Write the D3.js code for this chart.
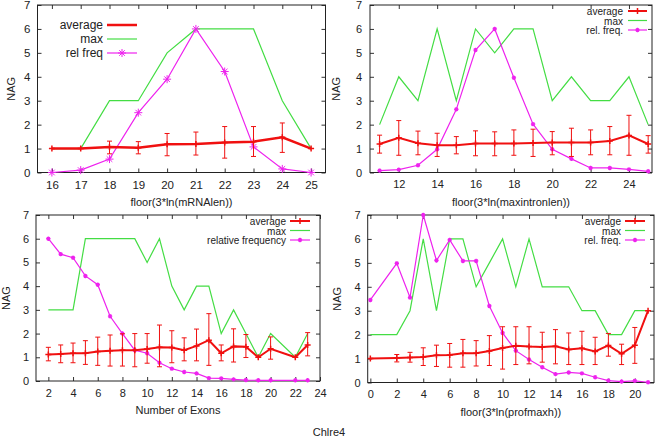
<!DOCTYPE html>
<html>
<head>
<meta charset="utf-8">
<script src="https://cdn.jsdelivr.net/npm/d3@7"></script>
<style>
  body { margin: 0; background: #fff; }
  text { font-family: "Liberation Sans", Arial, sans-serif; fill: #222; }
</style>
</head>
<body>
<svg id="chart" width="658" height="442"></svg>
<script>
// NAG vs gene features, Chlre4

// panel 1: mRNA length
const p1X    = [16, 17, 18, 19, 20, 21, 22, 23, 24, 25];
const p1Avg  = [1, 1, 1.07, 1.03, 1.18, 1.19, 1.25, 1.29, 1.47, 1];
const p1Lo   = [1, 1, 0.78, 0.78, 0.7, 0.73, 0.6, 0.67, 0.84, 1];
const p1Hi   = [1, 1, 1.31, 1.29, 1.63, 1.69, 1.92, 1.92, 2.07, 1];
const p1Max  = [1, 1, 3, 3, 5, 6, 6, 6, 3, 1];
const p1Freq = [0, 0.1, 0.56, 2.5, 3.9, 6, 4.22, 1.07, 0.15, 0];

// panel 2: max intron length
const p2X    = [11, 12, 13, 14, 15, 16, 17, 18, 19, 20, 21, 22, 23, 24, 25];
const p2Avg  = [1.19, 1.45, 1.22, 1.14, 1.14, 1.21, 1.21, 1.21, 1.23, 1.25, 1.25, 1.25, 1.32, 1.55, 1.19];
const p2Lo   = [0.81, 0.72, 0.74, 0.67, 0.78, 0.7, 0.7, 0.72, 0.67, 0.74, 0.67, 0.74, 0.74, 0.72, 0.81];
const p2Hi   = [1.56, 2.17, 1.73, 1.64, 1.5, 1.74, 1.7, 1.78, 1.81, 1.71, 1.85, 1.78, 1.92, 2.39, 1.54];
const p2Max  = [2, 4, 3, 6, 3, 6, 5, 6, 6, 3, 4, 3, 3, 4, 2];
const p2Freq = [0.08, 0.12, 0.3, 0.97, 2.64, 5.12, 6, 3.96, 2.02, 0.97, 0.57, 0.19, 0.19, 0.13, 0.05];

// panel 3: number of exons (no 21)
const p3X    = [2, 3, 4, 5, 6, 7, 8, 9, 10, 11, 12, 13, 14, 15, 16, 17, 18, 19, 20, 22, 23];
const p3Avg  = [1.12, 1.14, 1.17, 1.17, 1.24, 1.28, 1.3, 1.3, 1.35, 1.42, 1.41, 1.3, 1.48, 1.72, 1.17, 1.46, 1.44, 1, 1.36, 1, 1.52];
const p3Lo   = [0.85, 0.77, 0.77, 0.7, 0.66, 0.63, 0.63, 0.6, 0.75, 0.6, 0.77, 0.85, 0.85, 0.66, 0.85, 0.8, 0.99, 1, 0.92, 1, 1.06];
const p3Hi   = [1.42, 1.52, 1.6, 1.7, 1.85, 1.94, 1.99, 2.0, 2.0, 2.36, 2.12, 1.82, 2.19, 2.84, 1.52, 2.2, 1.96, 1, 1.86, 1, 2.04];
const p3Max  = [3, 3, 3, 6, 6, 6, 6, 6, 5, 6, 4, 3, 4, 4, 2, 3, 2, 1, 2, 1, 2];
const p3Freq = [6, 5.35, 5.2, 4.43, 4.06, 2.73, 2.0, 1.3, 1.17, 0.77, 0.52, 0.38, 0.32, 0.12, 0.11, 0.07, 0.04, 0.03, 0.03, 0.03, 0.03];

// panel 4: profile max height (no 1)
const p4X    = [0, 2, 3, 4, 5, 6, 7, 8, 9, 10, 11, 12, 13, 14, 15, 16, 17, 18, 19, 20, 21];
const p4Avg  = [1, 1.02, 1.04, 1.07, 1.14, 1.15, 1.22, 1.22, 1.32, 1.44, 1.54, 1.5, 1.48, 1.51, 1.38, 1.43, 1.3, 1.55, 1.2, 1.56, 3];
const p4Lo   = [1, 0.86, 0.85, 0.71, 0.67, 0.64, 0.64, 0.69, 0.71, 0.56, 0.75, 0.78, 0.85, 0.78, 0.75, 0.75, 0.75, 1.1, 0.75, 0.8, 3];
const p4Hi   = [1, 1.17, 1.26, 1.45, 1.56, 1.63, 1.8, 1.75, 1.96, 2.33, 2.33, 2.33, 2.1, 2.21, 2.07, 2.14, 1.89, 2.05, 1.6, 2.3, 3];
const p4Max  = [2, 2, 3, 6, 3, 6, 6, 4, 5, 6, 4, 6, 4, 4, 4, 3, 3, 2, 2, 3, 3];
const p4Freq = [3.45, 4.98, 3.55, 7, 5.1, 5.96, 5.08, 5.08, 3.2, 2.07, 1.33, 0.96, 0.64, 0.35, 0.42, 0.38, 0.22, 0.08, 0.04, 0.07, 0.01];

const yTicks = [0, 1, 2, 3, 4, 5, 6, 7];

const RED = '#f01010', GREEN = '#44dd44', MAG = '#ee22ee';

const svg = d3.select('#chart');

// gnuplot-ish asterisk / plus glyphs
const star = r => `M${-r},0H${r}M0,${-r}V${r}M${-r*0.7},${-r*0.7}L${r*0.7},${r*0.7}M${-r*0.7},${r*0.7}L${r*0.7},${-r*0.7}`;
const plus = r => `M${-r},0H${r}M0,${-r}V${r}`;

const drawPanel = p => {
  const x = d3.scaleLinear().domain(p.xDomain).range([p.left, p.right]);
  const y = d3.scaleLinear().domain([0, 7]).range([p.bottom, p.top]);
  const g = svg.append('g');

  // clip only left/right, markers may sit on top/bottom frame
  const clip = 'clip' + p.id;
  g.append('clipPath').attr('id', clip)
    .append('rect')
      .attr('x', p.left).attr('y', p.top - 6)
      .attr('width', p.right - p.left).attr('height', p.bottom - p.top + 12);

  // axes: ticks inside, mirrored
  const tl = 4;
  g.append('g').attr('transform', `translate(0,${p.bottom})`)
    .call(d3.axisBottom(x).tickValues(p.xTicks).tickSize(-tl).tickPadding(8).tickFormat(d3.format('d')));
  g.append('g').attr('transform', `translate(0,${p.top})`)
    .call(d3.axisTop(x).tickValues(p.xTicks).tickSize(-tl).tickFormat(''));
  g.append('g').attr('transform', `translate(${p.left},0)`)
    .call(d3.axisLeft(y).tickValues(yTicks).tickSize(-tl).tickPadding(p.yPad).tickFormat(d3.format('d')));
  g.append('g').attr('transform', `translate(${p.right},0)`)
    .call(d3.axisRight(y).tickValues(yTicks).tickSize(-tl).tickFormat(''));
  g.selectAll('.domain').remove();
  g.selectAll('.tick line').attr('stroke', '#333');
  g.selectAll('.tick text').attr('font-size', p.tickFs).style('font-family', '"Liberation Sans", Arial, sans-serif').attr('fill', '#222');

  g.append('rect')
    .attr('x', p.left).attr('y', p.top)
    .attr('width', p.right - p.left).attr('height', p.bottom - p.top)
    .attr('fill', 'none').attr('stroke', '#222');

  // labels
  g.append('text')
    .attr('x', (p.left + p.right) / 2).attr('y', p.bottom + 33)
    .attr('text-anchor', 'middle').attr('font-size', 11)
    .text(p.xLabel);
  g.append('text')
    .attr('transform', `translate(${p.nagX},${(p.top + p.bottom) / 2}) rotate(-90)`)
    .attr('text-anchor', 'middle').attr('font-size', 11)
    .text('NAG');

  const rows = p.xs.map((v, i) => ({ x: v, avg: p.avg[i], lo: p.lo[i], hi: p.hi[i], max: p.max[i], freq: p.freq[i] }));
  const plot = g.append('g').attr('clip-path', `url(#${clip})`);

  const line = key => d3.line().x(d => x(d.x)).y(d => y(d[key]));

  // max
  plot.append('path').datum(rows)
    .attr('d', line('max')).attr('fill', 'none').attr('stroke', GREEN).attr('stroke-width', 1.2);

  // relative frequency
  plot.append('path').datum(rows)
    .attr('d', line('freq')).attr('fill', 'none').attr('stroke', MAG).attr('stroke-width', 1.2);
  plot.selectAll('.fq').data(rows).enter()
    .append('path')
      .attr('transform', d => `translate(${x(d.x)},${y(d.freq)})`)
      .attr('d', star(p.starR)).attr('stroke', MAG).attr('stroke-width', p.starW);

  // average + error bars
  const cap = 2.5;
  const eb = plot.selectAll('.eb').data(rows.filter(d => d.hi > d.lo)).enter().append('g');
  eb.append('path')
    .attr('d', d => `M${x(d.x)},${y(d.lo)}V${y(d.hi)}M${x(d.x) - cap},${y(d.lo)}H${x(d.x) + cap}M${x(d.x) - cap},${y(d.hi)}H${x(d.x) + cap}`)
    .attr('stroke', RED).attr('stroke-width', 1).attr('fill', 'none');
  plot.append('path').datum(rows)
    .attr('d', line('avg')).attr('fill', 'none').attr('stroke', RED).attr('stroke-width', p.avgW);
  plot.selectAll('.av').data(rows).enter()
    .append('path')
      .attr('transform', d => `translate(${x(d.x)},${y(d.avg)})`)
      .attr('d', plus(3)).attr('stroke', RED).attr('stroke-width', 1.5);

  // key
  const key = g.append('g');
  p.keys.forEach((k, i) => {
    const ky = p.key.y + i * p.key.dy;
    key.append('text')
      .attr('x', p.key.tx).attr('y', ky + p.key.tdy)
      .attr('text-anchor', 'end').attr('font-size', p.key.fs)
      .text(k);
    key.append('path')
      .attr('d', `M${p.key.x0},${ky}H${p.key.x1}`)
      .attr('stroke', [RED, GREEN, MAG][i])
      .attr('stroke-width', i === 0 ? p.avgW : 1.2);
    const mx = (p.key.x0 + p.key.x1) / 2;
    if (i === 2) key.append('path').attr('transform', `translate(${mx},${ky})`)
      .attr('d', star(p.starR)).attr('stroke', MAG).attr('stroke-width', p.starW);
    if (i === 0 && p.key.avgMark) key.append('path').attr('transform', `translate(${mx},${ky})`)
      .attr('d', plus(3)).attr('stroke', RED).attr('stroke-width', 1.5);
  });
};

drawPanel({
  id: 1, left: 37.5, right: 325.5, top: 5, bottom: 172.5,
  xDomain: [15.5, 25.5], xTicks: d3.range(16, 26), yPad: 7, nagX: 15, tickFs: 11.5,
  xLabel: 'floor(3*ln(mRNAlen))',
  xs: p1X, avg: p1Avg, lo: p1Lo, hi: p1Hi, max: p1Max, freq: p1Freq,
  avgW: 2.5, starR: 4, starW: 1,
  keys: ['average', 'max', 'rel freq'],
  key: { y: 25, dy: 14, tdy: 4, tx: 103, x0: 107, x1: 137, fs: 12, avgMark: false }
});

drawPanel({
  id: 2, left: 370, right: 652, top: 5, bottom: 172.5,
  xDomain: [10.5, 25.2], xTicks: d3.range(12, 25, 2), yPad: 8, nagX: 340, tickFs: 11,
  xLabel: 'floor(3*ln(maxintronlen))',
  xs: p2X, avg: p2Avg, lo: p2Lo, hi: p2Hi, max: p2Max, freq: p2Freq,
  avgW: 2, starR: 2.2, starW: 1.2,
  keys: ['average', 'max', 'rel. freq.'],
  key: { y: 11, dy: 9.5, tdy: 4, tx: 623, x0: 628, x1: 647, fs: 10, avgMark: true }
});

drawPanel({
  id: 3, left: 36, right: 320, top: 215, bottom: 381,
  xDomain: [1, 24], xTicks: d3.range(2, 25, 2), yPad: 7, nagX: 10, tickFs: 11,
  xLabel: 'Number of Exons',
  xs: p3X, avg: p3Avg, lo: p3Lo, hi: p3Hi, max: p3Max, freq: p3Freq,
  avgW: 2, starR: 2.2, starW: 1.2,
  keys: ['average', 'max', 'relative frequency'],
  key: { y: 221, dy: 9.5, tdy: 4, tx: 286, x0: 290, x1: 310, fs: 10, avgMark: true }
});

drawPanel({
  id: 4, left: 367.7, right: 654, top: 215, bottom: 382.5,
  xDomain: [-0.2, 21.45], xTicks: d3.range(0, 21, 2), yPad: 7, nagX: 341, tickFs: 11,
  xLabel: 'floor(3*ln(profmaxh))',
  xs: p4X, avg: p4Avg, lo: p4Lo, hi: p4Hi, max: p4Max, freq: p4Freq,
  avgW: 2, starR: 2.2, starW: 1.2,
  keys: ['average', 'max', 'rel. freq.'],
  key: { y: 221, dy: 9.5, tdy: 4, tx: 621, x0: 625, x1: 645, fs: 10, avgMark: true }
});

svg.append('text')
  .attr('x', 329).attr('y', 436)
  .attr('text-anchor', 'middle').attr('font-size', 11)
  .text('Chlre4');
</script>
</body>
</html>
